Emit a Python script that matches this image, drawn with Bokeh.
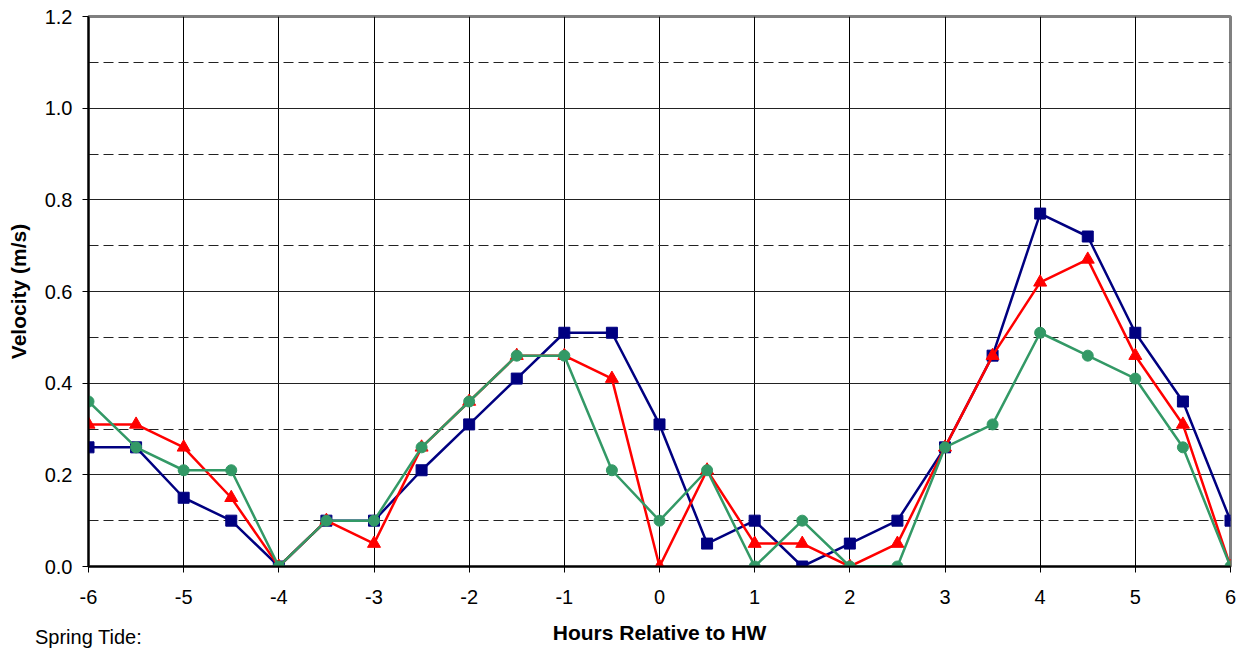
from bokeh.plotting import figure
from bokeh.models import Range1d, FixedTicker, CustomJSTickFormatter, Div
from bokeh.layouts import column
from bokeh.embed import file_html
from bokeh.resources import INLINE

hours = [-6, -5.5, -5, -4.5, -4, -3.5, -3, -2.5, -2, -1.5, -1, -0.5, 0,
         0.5, 1, 1.5, 2, 2.5, 3, 3.5, 4, 4.5, 5, 5.5, 6]
blue_vals = [0.26, 0.26, 0.15, 0.10, 0.00, 0.10, 0.10, 0.21, 0.31, 0.41, 0.51, 0.51, 0.31,
             0.05, 0.10, 0.00, 0.05, 0.10, 0.26, 0.46, 0.77, 0.72, 0.51, 0.36, 0.10]
red_vals = [0.31, 0.31, 0.26, 0.15, 0.00, 0.10, 0.05, 0.26, 0.36, 0.46, 0.46, 0.41, 0.00,
            0.21, 0.05, 0.05, 0.00, 0.05, 0.26, 0.46, 0.62, 0.67, 0.46, 0.31, 0.00]
green_vals = [0.36, 0.26, 0.21, 0.21, 0.00, 0.10, 0.10, 0.26, 0.36, 0.46, 0.46, 0.21, 0.10,
              0.21, 0.00, 0.10, 0.00, 0.00, 0.26, 0.31, 0.51, 0.46, 0.41, 0.26, 0.00]
x_ticks = [-6, -5, -4, -3, -2, -1, 0, 1, 2, 3, 4, 5, 6]
y_ticks = [0.0, 0.2, 0.4, 0.6, 0.8, 1.0, 1.2]
y_minor = [0.1, 0.3, 0.5, 0.7, 0.9, 1.1]

FONT = "Liberation Sans"

p = figure(width=1239, height=649, output_backend="svg", toolbar_location=None,
           x_range=Range1d(-6, 6), y_range=Range1d(0, 1.2),
           min_border_left=88, min_border_right=9, min_border_top=16, min_border_bottom=83)
p.background_fill_color = "white"
p.border_fill_color = "white"
p.outline_line_color = "#808080"
p.outline_line_width = 3

p.xaxis.ticker = FixedTicker(ticks=x_ticks)
p.yaxis.ticker = FixedTicker(ticks=y_ticks, minor_ticks=y_minor)
p.xaxis.formatter = CustomJSTickFormatter(code="return String(tick);")
p.yaxis.formatter = CustomJSTickFormatter(code="return tick.toFixed(1);")

for ax in (p.xaxis, p.yaxis):
    ax.axis_line_color = "black"
    ax.axis_line_width = 2
    ax.major_tick_line_color = "black"
    ax.major_tick_line_width = 1
    ax.major_tick_in = 0
    ax.major_tick_out = 6
    ax.minor_tick_line_color = None
    ax.major_label_text_font = FONT
    ax.major_label_text_font_size = "20px"
    ax.major_label_text_color = "black"
    ax.axis_label_text_font = FONT
    ax.axis_label_text_font_size = "21px"
    ax.axis_label_text_font_style = "bold"
    ax.axis_label_text_color = "black"

p.xaxis.axis_label = "Hours Relative to HW"
p.yaxis.axis_label = "Velocity (m/s)"
p.xaxis.major_label_standoff = 17
p.xaxis.axis_label_standoff = 14
p.yaxis.major_label_standoff = 10
p.yaxis.axis_label_standoff = 12

p.xgrid.grid_line_color = "black"
p.xgrid.grid_line_width = 1
p.ygrid.grid_line_color = "#222222"
p.ygrid.grid_line_width = 1
p.ygrid.minor_grid_line_color = "#222222"
p.ygrid.minor_grid_line_width = 1
p.ygrid.minor_grid_line_dash = "10 5"

p.line(hours, blue_vals, line_color="#000080", line_width=2.5)
p.scatter(hours, blue_vals, marker="square", size=11, fill_color="#000080", line_color="#000080")
p.line(hours, red_vals, line_color="#FF0000", line_width=2.5)
p.scatter(hours, red_vals, marker="triangle", size=13, fill_color="#FF0000", line_color="#FF0000")
p.line(hours, green_vals, line_color="#339966", line_width=2.5)
p.scatter(hours, green_vals, marker="circle", size=11, fill_color="#339966", line_color="#339966")

note = Div(text="Spring Tide:", width=200, height=23, margin=(-23, 0, 0, 35),
           styles={"font-family": FONT, "font-size": "20px", "color": "black",
                   "line-height": "23px", "white-space": "nowrap"})

layout = column(p, note, spacing=0)
open("out.html", "w").write(file_html(layout, INLINE))
